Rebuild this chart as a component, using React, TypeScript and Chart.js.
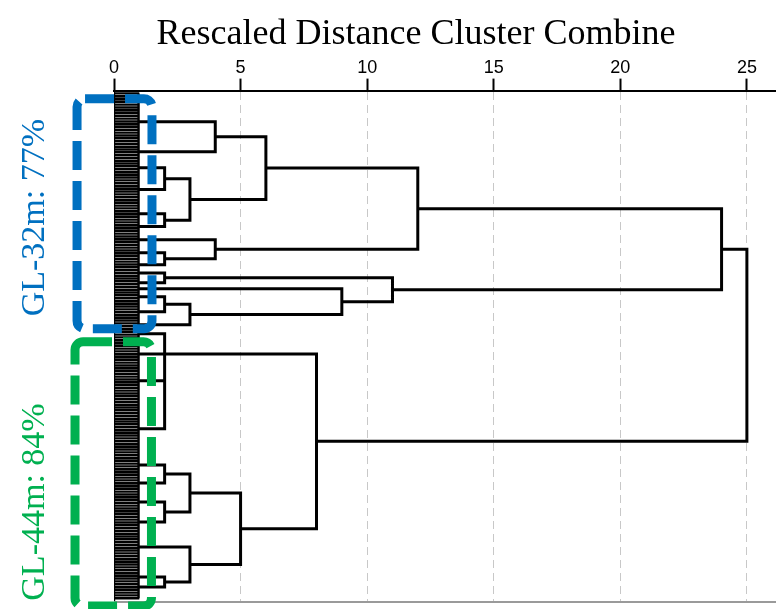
import React, { useEffect, useRef } from "react";
import { Chart, registerables } from "chart.js";

Chart.register(...registerables);

// ---------- data ----------
const titleText = "Rescaled Distance Cluster Combine";
const xTicks = [0, 5, 10, 15, 20, 25];
const xMax = 26.15;
const leafCount = 181; // individual cases (rows of the dendrogram)
const yMax = 182;

// positions (in leaf rows) of the small clusters formed at distance 1
const leafGroupY = [
  11.1, 21.8, 27.5, 35.3, 43.9, 48.5, 53.2, 57.8, 62.1, 65.0, 68.5, 70.7, 73.5,
  78.9, 83.5, 86.7, 93.9, 103.5, 120.6, 133.5, 139.9, 146.7, 153.8, 162.7,
  173.4, 177.0,
];
const leafGroupHeight = 1;

// merges: rescaled distance and the members combined
const mergeHeights = [4, 2, 2, 3, 6, 2, 4, 12, 2, 2, 3, 9, 11, 24, 2, 2, 2, 3, 2, 3, 5, 8, 25];
const mergeChildren = [
  ["L0", "L1"],
  ["L2", "L3"],
  ["L4", "L5"],
  ["M1", "M2"],
  ["M0", "M3"],
  ["L7", "L8"],
  ["L6", "M5"],
  ["M4", "M6"],
  ["L9", "L10"],
  ["L12", "L13"],
  ["M9", "L14"],
  ["L11", "M10"],
  ["M8", "M11"],
  ["M7", "M12"],
  ["L15", "L16", "L17", "L18"],
  ["L19", "L20"],
  ["L21", "L22"],
  ["M15", "M16"],
  ["L24", "L25"],
  ["L23", "M18"],
  ["M17", "M19"],
  ["M14", "M20"],
  ["M13", "M21"],
];
// member whose row carries the merged cluster onward (null = midpoint)
const mergeTrunk: (string | null)[] = [
  null, null, null, null, null, null, null, null, null, null, null, null,
  null, null, "L16", null, null, null, null, null, null, null, null,
];

// group annotations
const groupLabels = ["GL-32m: 77%", "GL-44m: 84%"];
const groupColors = ["#0070C0", "#00B050"];
const groupBoxX = [[-1.46, 1.5], [-1.54, 1.48]];
const groupBoxY = [[2.9, 84.9], [89.6, 183.8]];
const groupLabelY = [45.3, 146.7];
const groupLabelX = -3.12;

// ---------- build segments ----------
type P = { x: number; y: number };
const GAP: P = { x: NaN, y: NaN };

function buildTree() {
  const pos: Record<string, { h: number; y: number }> = {};
  leafGroupY.forEach((y, i) => (pos["L" + i] = { h: leafGroupHeight, y }));
  const pts: P[] = [];
  mergeHeights.forEach((h, i) => {
    const kids = mergeChildren[i].map((k) => pos[k]).sort((a, b) => a.y - b.y);
    const first = kids[0];
    const last = kids[kids.length - 1];
    pts.push({ x: first.h, y: first.y }, { x: h, y: first.y }, { x: h, y: last.y }, { x: last.h, y: last.y }, GAP);
    for (let k = 1; k < kids.length - 1; k++) {
      pts.push({ x: kids[k].h, y: kids[k].y }, { x: h, y: kids[k].y }, GAP);
    }
    const trunk = mergeTrunk[i];
    const y = trunk ? pos[trunk].y : (first.y + last.y) / 2;
    pos["M" + i] = { h, y };
  });
  return pts;
}

function buildLeaves() {
  const pts: P[] = [];
  for (let i = 1; i <= leafCount; i++) {
    pts.push({ x: 0, y: i }, { x: leafGroupHeight, y: i }, GAP);
  }
  pts.push({ x: 0, y: 0 }, { x: 0, y: yMax });
  pts.push(GAP, { x: leafGroupHeight * 0.97, y: 1 }, { x: leafGroupHeight * 0.97, y: leafCount });
  return pts;
}

const decor = {
  id: "decor",
  afterDatasetsDraw(chart: any) {
    const ctx = chart.ctx as CanvasRenderingContext2D;
    const xs = chart.scales.x;
    const ys = chart.scales.y;
    const area = chart.chartArea;
    ctx.save();
    // bottom line
    ctx.strokeStyle = "#9a9a9a";
    ctx.lineWidth = 2;
    ctx.beginPath();
    ctx.moveTo(area.left, area.bottom + 1);
    ctx.lineTo(area.right, area.bottom + 1);
    ctx.stroke();
    // group boxes
    groupLabels.forEach((label, i) => {
      const x0 = xs.getPixelForValue(groupBoxX[i][0]);
      const x1 = xs.getPixelForValue(groupBoxX[i][1]);
      const y0 = ys.getPixelForValue(groupBoxY[i][0]);
      const y1 = ys.getPixelForValue(groupBoxY[i][1]);
      ctx.strokeStyle = groupColors[i];
      ctx.lineWidth = 9;
      ctx.setLineDash([29, 11]);
      ctx.beginPath();
      (ctx as any).roundRect(x0, y0, x1 - x0, y1 - y0, 8);
      ctx.stroke();
      ctx.setLineDash([]);
      ctx.save();
      ctx.translate(xs.getPixelForValue(groupLabelX), ys.getPixelForValue(groupLabelY[i]));
      ctx.rotate(-Math.PI / 2);
      ctx.fillStyle = groupColors[i];
      ctx.font = "34px 'Liberation Serif'";
      ctx.textAlign = "center";
      ctx.textBaseline = "middle";
      ctx.fillText(label, 0, 0);
      ctx.restore();
    });
    // title
    ctx.fillStyle = "#000";
    ctx.font = "36px 'Liberation Serif'";
    ctx.textAlign = "center";
    ctx.textBaseline = "alphabetic";
    ctx.fillText(titleText, 416, 44);
    ctx.restore();
  },
};

export default function App() {
  const ref = useRef<HTMLCanvasElement>(null);
  useEffect(() => {
    if (!ref.current) return;
    const chart = new Chart(ref.current, {
      type: "scatter",
      data: {
        datasets: [
          {
            data: buildLeaves(),
            showLine: true,
            borderColor: "#000",
            borderWidth: 2.4,
            pointRadius: 0,
            spanGaps: false,
          },
          {
            data: buildTree(),
            showLine: true,
            borderColor: "#000",
            borderWidth: 3,
            pointRadius: 0,
            spanGaps: false,
            borderJoinStyle: "miter",
            borderCapStyle: "square",
          } as any,
        ],
      },
      options: {
        responsive: false,
        animation: false,
        events: [],
        layout: { padding: { left: 114, right: 0, top: 57, bottom: 8 } },
        plugins: { legend: { display: false }, tooltip: { enabled: false }, title: { display: false } },
        scales: {
          x: {
            type: "linear",
            position: "top",
            min: 0,
            max: xMax,
            afterBuildTicks: (s: any) => {
              s.ticks = xTicks.map((v) => ({ value: v }));
            },
            ticks: { color: "#000", font: { family: "'Liberation Sans'", size: 18 }, padding: 0 },
            grid: {
              color: "#c8c8c8",
              lineWidth: 1,
              tickLength: 12,
              tickColor: "#000",
              tickWidth: 2,
            },
            border: { display: true, color: "#000", width: 2, dash: [8, 5] },
          },
          y: { type: "linear", reverse: true, min: 0, max: yMax, display: false },
        },
      },
      plugins: [decor],
    });
    return () => chart.destroy();
  }, []);
  return (
    <div style={{ position: "fixed", left: 0, top: 0, width: 776, height: 609, background: "#fff" }}>
      <canvas ref={ref} width={776} height={609} style={{ display: "block" }} />
    </div>
  );
}
